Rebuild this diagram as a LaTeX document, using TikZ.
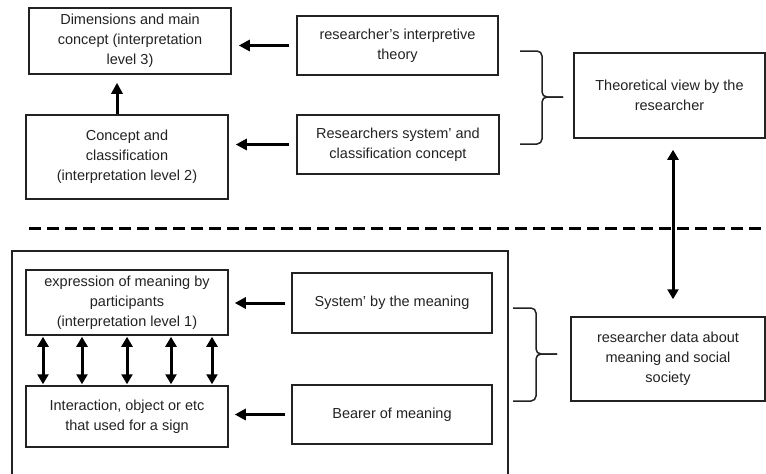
\documentclass[tikz,border=0pt]{standalone}
\usepackage{fontspec}
\setmainfont{Liberation Sans}
\usetikzlibrary{arrows.meta}
\definecolor{ink}{HTML}{222222}

\begin{document}
\begin{tikzpicture}[x=1pt,y=-1pt,
  box/.style={draw=ink,line width=1.5pt,text=ink,align=center,inner sep=0pt,
    font=\fontsize{14.5}{20}\selectfont},
  arr/.style={line width=3pt,-{Triangle[length=11pt,width=11pt]}},
  dbl/.style={line width=3pt,{Triangle[length=10pt,width=11pt]}-{Triangle[length=10pt,width=11pt]}},
  brc/.style={draw=ink,line width=1.5pt,rounded corners=5pt}]
 \useasboundingbox (0,0) rectangle (766,474);
 % upper part
 \node[box,minimum width=202pt,minimum height=66pt] (dim) at (130,41) {Dimensions and main\\concept (interpretation\\level 3)};
 \node[box,minimum width=202pt,minimum height=84pt] (con) at (127,157) {Concept and\\classification\\(interpretation level 2)};
 \node[box,minimum width=201pt,minimum height=59pt] (theo) at (397.5,45.5) {researcher's interpretive\\theory};
 \node[box,minimum width=202pt,minimum height=59pt] (sys) at (398,144.5) {Researchers system' and\\classification concept};
 \node[box,minimum width=191pt,minimum height=85pt] (view) at (669.5,95.5) {Theoretical view by the\\researcher};
 \draw[arr,shorten <=7pt,shorten >=7pt] (theo.west) -- (theo.west -| dim.east);
 \draw[arr,shorten <=7pt,shorten >=7pt] (sys.west) -- (sys.west -| con.east);
 \draw[arr,shorten >=8pt] ([xshift=-10pt]con.north) -- ([xshift=-10pt]con.north |- dim.south);
 \coordinate (t1) at (520,51);
 \coordinate (t2) at (520,144);
 \coordinate (t3) at (563,97);
 \draw[brc] (t1) -- ++(22,0) |- (t3);
 \draw[brc] (t2) -- ++(22,0) |- (t3);

 \draw[line width=3pt,dash pattern=on 12pt off 6pt] (29,228) -- (766,228);

 % lower part
 \draw[ink,line width=1.6pt] (12,476) -- (12,251) -- (508,251) -- (508,476);
 \node[box,minimum width=202pt,minimum height=65pt] (expr) at (127,302.5) {expression of meaning by\\participants\\(interpretation level 1)};
 \node[box,minimum width=202pt,minimum height=61pt] (inter) at (127,416.5) {Interaction, object or etc\\that used for a sign};
 \node[box,minimum width=200pt,minimum height=60pt] (sysm) at (392,303) {System' by the meaning};
 \node[box,minimum width=200pt,minimum height=59pt] (bear) at (392,414.5) {Bearer of meaning};
 \node[box,minimum width=194pt,minimum height=84pt] (data) at (668,359) {researcher data about\\meaning and social\\society};
 \draw[arr,shorten <=6pt,shorten >=6pt] (sysm.west) -- (sysm.west -| expr.east);
 \draw[arr,shorten <=6pt,shorten >=6pt] (bear.west) -- (bear.west -| inter.east);
 \foreach \dx in {-84,-45,0,44,85}
  \draw[dbl,shorten <=1pt,shorten >=1pt] ([xshift=\dx pt]expr.south) -- ([xshift=\dx pt]expr.south |- inter.north);
 \coordinate (u1) at (513,308);
 \coordinate (u2) at (513,401);
 \coordinate (u3) at (557,354);
 \draw[brc] (u1) -- ++(23,0) |- (u3);
 \draw[brc] (u2) -- ++(23,0) |- (u3);

 \draw[dbl,shorten <=11pt,shorten >=17pt] ([xshift=3.5pt]view.south) -- ([xshift=3.5pt]view.south |- data.north);
\end{tikzpicture}
\end{document}
